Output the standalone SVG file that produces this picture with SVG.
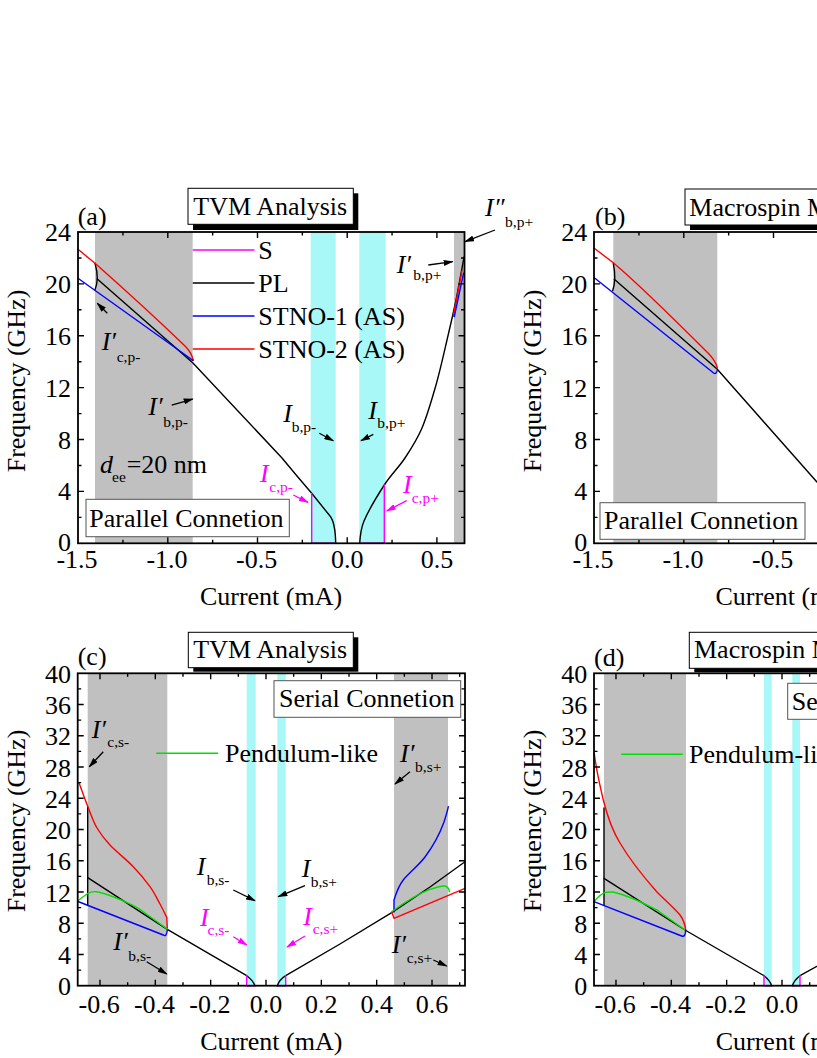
<svg xmlns="http://www.w3.org/2000/svg" width="817" height="1058" viewBox="0 0 817 1058">
<defs>
<style>
text{font-family:"Liberation Serif","Times New Roman",serif;font-size:26px;fill:#000}
.it{font-style:italic}
.sb{font-size:15.5px}
.mg{fill:#ff00ff}
.gray{fill:#c0c0c0}
.cyan{fill:#a8f8f8}
.frame{fill:none;stroke:#000;stroke-width:1.8}
.tick{fill:none;stroke:#000;stroke-width:1.4}
.c{fill:none;stroke-width:1.4;stroke-linejoin:round;stroke-linecap:round}
.k{stroke:#000}.r{stroke:#ff0000}.b{stroke:#0000ff}.g{stroke:#00e000}.m{stroke:#ff00ff}
.box{fill:#fff;stroke:#000;stroke-width:1}
.box2{fill:#fff;stroke:#555;stroke-width:1}
.arr{stroke:#000;stroke-width:1.3;marker-end:url(#ah)}
.arrm{stroke:#ff00ff;stroke-width:1.3;marker-end:url(#ahm)}
.yl{text-anchor:end}
.xl{text-anchor:middle}
</style>
<marker id="ah" viewBox="0 0 10 6" refX="9" refY="3" markerWidth="10" markerHeight="6" markerUnits="userSpaceOnUse" orient="auto"><path d="M0,0 L10,3 L0,6 z" fill="#000"/></marker>
<marker id="ahm" viewBox="0 0 10 6" refX="9" refY="3" markerWidth="10" markerHeight="6" markerUnits="userSpaceOnUse" orient="auto"><path d="M0,0 L10,3 L0,6 z" fill="#ff00ff"/></marker>
</defs>
<rect width="817" height="1058" fill="#fff"/>

<!-- ========== Panel (a) ========== -->
<g id="panel-a">
<rect class="gray" x="95" y="232" width="97.7" height="311.3"/>
<rect class="gray" x="454" y="232" width="10.5" height="311.3"/>
<rect class="cyan" x="310.7" y="232" width="25" height="311.3"/>
<rect class="cyan" x="359.3" y="232" width="26.4" height="311.3"/>
<g id="curves-a">
<path class="c k" d="M95,263.3 Q99.5,279 95,290"/>
<path class="c k" d="M97.3,279 L192.7,362.7 L282,458 Q296,475 311.7,493.3 L330,516 C334,521 335.5,532 335.7,543.3"/>
<path class="c k" d="M359.7,543.3 C360.3,533 361.5,527 364,521 C368.1,511.3 377.5,495.5 384.3,485 C391.1,474.5 398.7,467.5 405,458 C411.3,448.5 416.8,440.2 422,428 C427.2,415.8 431.8,399.7 436,385 C440.2,370.3 443.7,354.2 447,340 C450.3,325.8 453.2,313.8 456,300 C458.8,286.2 462.7,264.2 464,257"/>
<path class="c r" d="M78,249.3 L95,263.3 C115,281 160,322 185,346 C189,350 192,354 193,360"/>
<path class="c b" d="M78,278.3 L190,358.3 Q193,361 193.3,360"/>
<path class="c m" d="M311.7,493.3 V543.3 H335.7"/>
<path class="c m" d="M359.7,543.3 H384.3 V485"/>
<path class="c r" d="M453.3,316 L462,270.7"/>
<path class="c b" d="M454.3,316.7 L463.5,273.3"/>
</g>
<g id="legend-a">
<line class="c m" x1="193.3" y1="250" x2="254" y2="250"/><text x="258.3" y="259">S</text>
<line class="c k" x1="193.3" y1="283" x2="254" y2="283"/><text x="258.3" y="292">PL</text>
<line class="c b" x1="193.3" y1="316" x2="254" y2="316"/><text x="258.3" y="325">STNO-1 (AS)</text>
<line class="c r" x1="193.3" y1="349" x2="254" y2="349"/><text x="258.3" y="358">STNO-2 (AS)</text>
</g>
<rect class="frame" x="78" y="232" width="386.5" height="311.3"/>
<path class="tick" d="M167.8,543.3v-6M257.5,543.3v-6M347.2,543.3v-6M436.9,543.3v-6M122.95,543.3v-3.5M212.65,543.3v-3.5M302.35,543.3v-3.5M392.05,543.3v-3.5M167.8,232v6M257.5,232v6M347.2,232v6M436.9,232v6M122.95,232v3.5M212.65,232v3.5M302.35,232v3.5M392.05,232v3.5M78,491.42h6M78,439.53h6M78,387.65h6M78,335.77h6M78,283.88h6M78,517.36h3.5M78,465.47h3.5M78,413.59h3.5M78,361.71h3.5M78,309.82h3.5M78,257.94h3.5M464.5,491.42h-6M464.5,439.53h-6M464.5,387.65h-6M464.5,335.77h-6M464.5,283.88h-6M464.5,517.36h-3.5M464.5,465.47h-3.5M464.5,413.59h-3.5M464.5,361.71h-3.5M464.5,309.82h-3.5M464.5,257.94h-3.5"/>
<g id="ticklabels-a">
<text class="yl" x="71" y="241">24</text><text class="yl" x="71" y="292.9">20</text><text class="yl" x="71" y="344.8">16</text><text class="yl" x="71" y="396.6">12</text><text class="yl" x="71" y="448.5">8</text><text class="yl" x="71" y="500.4">4</text><text class="yl" x="71" y="550.5">0</text>
<text class="xl" x="77" y="568">-1.5</text><text class="xl" x="167" y="568">-1.0</text><text class="xl" x="256.7" y="568">-0.5</text><text class="xl" x="347.2" y="568">0.0</text><text class="xl" x="436.9" y="568">0.5</text>
</g>
<text class="xl" x="271" y="605">Current (mA)</text>
<text class="xl" transform="translate(25,381) rotate(-90)">Frequency (GHz)</text>
<text x="77.7" y="225">(a)</text>
<g id="box-a-title">
<rect x="193" y="193.3" width="165.3" height="36.7" fill="#000"/>
<rect class="box" x="188" y="188.3" width="165.3" height="36"/>
<text x="193.3" y="215">TVM Analysis</text>
</g>
<g id="box-a-conn">
<rect class="box2" x="86" y="499.3" width="203.3" height="37.4"/>
<text x="89.3" y="526.7">Parallel Connetion</text>
</g>
<g id="annot-a">
<text class="it" x="100" y="473.3">d</text><text class="sb" x="112" y="481.7">ee</text><text x="126.7" y="473.3">=20 nm</text>
<text class="it" x="101.7" y="350">I′</text><text class="sb" x="116.7" y="361.7">c,p-</text>
<text class="it" x="148.3" y="415">I′</text><text class="sb" x="163.3" y="426.7">b,p-</text>
<text class="it" x="283.3" y="421.7">I</text><text class="sb" x="291.7" y="432">b,p-</text>
<text class="it" x="368.3" y="419.3">I</text><text class="sb" x="377.3" y="428.3">b,p+</text>
<text class="it mg" x="260" y="481.7">I</text><text class="sb mg" x="269.3" y="491.7">c,p-</text>
<text class="it mg" x="403" y="493.3">I</text><text class="sb mg" x="411.7" y="503.3">c,p+</text>
<text class="it" x="396.7" y="272.7">I′</text><text class="sb" x="413.3" y="280">b,p+</text>
<text class="it" x="485" y="216">I″</text><text class="sb" x="505" y="226.7">b,p+</text>
</g>
</g>

<!-- ========== Panel (b) ========== -->
<g id="panel-b">
<rect class="gray" x="613.3" y="232" width="104" height="311.3"/>
<g id="curves-b">
<path class="c k" d="M613.3,263.3 Q616.5,279 612.7,290.7"/>
<path class="c k" d="M614.3,279.3 L717.3,369.3 L816.7,481.7 L830,496"/>
<path class="c r" d="M594.3,248.3 L613.3,262.7 C635,281 680,325 708,353 C713,358 716,362 717.3,368"/>
<path class="c b" d="M594.3,277.7 L713.3,372.7 Q716.5,375 717.3,370"/>
</g>
<rect class="frame" x="594" y="232" width="386.5" height="311.3"/>
<path class="tick" d="M683.8,543.3v-6M773.5,543.3v-6M638.95,543.3v-3.5M728.65,543.3v-3.5M683.8,232v6M773.5,232v6M638.95,232v3.5M728.65,232v3.5M594,491.42h6M594,439.53h6M594,387.65h6M594,335.77h6M594,283.88h6M594,517.36h3.5M594,465.47h3.5M594,413.59h3.5M594,361.71h3.5M594,309.82h3.5M594,257.94h3.5"/>
<g id="ticklabels-b">
<text class="yl" x="587.3" y="241">24</text><text class="yl" x="587.3" y="292.9">20</text><text class="yl" x="587.3" y="344.8">16</text><text class="yl" x="587.3" y="396.6">12</text><text class="yl" x="587.3" y="448.5">8</text><text class="yl" x="587.3" y="500.4">4</text><text class="yl" x="587.3" y="550.5">0</text>
<text class="xl" x="593" y="568">-1.5</text><text class="xl" x="683" y="568">-1.0</text><text class="xl" x="772.7" y="568">-0.5</text>
</g>
<text x="715.5" y="605">Current (m</text>
<text class="xl" transform="translate(541,381) rotate(-90)">Frequency (GHz)</text>
<text x="595" y="225">(b)</text>
<g id="box-b-title">
<rect x="690" y="194" width="140" height="36" fill="#000"/>
<rect class="box" x="685" y="189" width="140" height="36"/>
<text x="689.3" y="215.7">Macrospin M</text>
</g>
<g id="box-b-conn">
<rect class="box2" x="600" y="502.7" width="205" height="36.6"/>
<text x="604" y="529.3">Parallel Connetion</text>
</g>
</g>

<!-- ========== Panel (c) ========== -->
<g id="panel-c">
<rect class="gray" x="87.7" y="673.3" width="79.6" height="312.4"/>
<rect class="gray" x="394" y="673.3" width="54" height="312.4"/>
<rect class="cyan" x="246.7" y="673.3" width="9" height="312.4"/>
<rect class="cyan" x="277.3" y="673.3" width="8.4" height="312.4"/>
<g id="curves-c">
<path class="c k" d="M87.7,807 V905.3"/>
<path class="c k" d="M87.7,877.7 L167.3,929.3 L246.7,975.7 C250,978 253,981 255,985.7"/>
<path class="c k" d="M277.3,985.7 C279,981 282,978 285.7,975.7 L340,944 L391.7,912.7 L430,887 L465,861.7"/>
<path class="c r" d="M79,782.7 C80.5,786.75 85,799.45 88,807 C91,814.55 93.3,821.7 97,828 C100.7,834.3 104,838.55 110,845 C116.05,851.45 126.6,859.75 133.3,866.7 C140,873.65 145.55,880.5 150,886.7 C154.45,892.9 157.2,898.9 160,904 C162.8,909.1 165.6,915.1 166.7,917.3 L167.3,928"/>
<path class="c g" d="M77.7,900.7 L87.7,893.5 C90,892 93,891.3 96.7,891.7 C103,892.5 110,895.5 120,899.5 C128,903 135,906 141,910 L167.3,929.3"/>
<path class="c b" d="M78,901.5 L163.3,935 Q166.5,937.5 167.3,930"/>
<path class="c b" d="M394,912 V900 C397,890 400,884 404,879 C411,871 419,865 425,857 C434,845 440,833 444,822 C446,816 447.5,811 448.3,806.7"/>
<path class="c r" d="M392,912.5 L394,918.3 L465,888.3"/>
<path class="c g" d="M391.7,911.7 C405,902 420,893 430,889.3 C437,887 442,885.5 445,886 C448,887 449.3,889 449.3,891.7"/>
<path class="c m" d="M246.7,975.7 V985.7 H255"/>
<path class="c m" d="M277.3,985.7 H285.7 V975.7"/>
</g>
<g id="legend-c">
<line class="c g" x1="156.7" y1="753.3" x2="217.7" y2="753.3"/><text x="225" y="762">Pendulum-like</text>
</g>
<rect class="frame" x="77.7" y="673.3" width="387.3" height="312.4"/>
<path class="tick" d="M99.98,985.7v-6M155.32,985.7v-6M210.66,985.7v-6M266,985.7v-6M321.34,985.7v-6M376.68,985.7v-6M432.02,985.7v-6M127.65,985.7v-3.5M182.99,985.7v-3.5M238.33,985.7v-3.5M293.67,985.7v-3.5M349.01,985.7v-3.5M404.35,985.7v-3.5M459.69,985.7v-3.5M99.98,673.3v6M155.32,673.3v6M210.66,673.3v6M266,673.3v6M321.34,673.3v6M376.68,673.3v6M432.02,673.3v6M127.65,673.3v3.5M182.99,673.3v3.5M238.33,673.3v3.5M293.67,673.3v3.5M349.01,673.3v3.5M404.35,673.3v3.5M459.69,673.3v3.5M77.7,954.46h6M77.7,923.22h6M77.7,891.98h6M77.7,860.74h6M77.7,829.5h6M77.7,798.26h6M77.7,767.02h6M77.7,735.78h6M77.7,704.54h6M77.7,970.08h3.5M77.7,938.84h3.5M77.7,907.6h3.5M77.7,876.36h3.5M77.7,845.12h3.5M77.7,813.88h3.5M77.7,782.64h3.5M77.7,751.4h3.5M77.7,720.16h3.5M77.7,688.92h3.5M465,954.46h-6M465,923.22h-6M465,891.98h-6M465,860.74h-6M465,829.5h-6M465,798.26h-6M465,767.02h-6M465,735.78h-6M465,704.54h-6M465,970.08h-3.5M465,938.84h-3.5M465,907.6h-3.5M465,876.36h-3.5M465,845.12h-3.5M465,813.88h-3.5M465,782.64h-3.5M465,751.4h-3.5M465,720.16h-3.5M465,688.92h-3.5"/>
<g id="ticklabels-c">
<text class="yl" x="71" y="682.8">40</text><text class="yl" x="71" y="714">36</text><text class="yl" x="71" y="745.3">32</text><text class="yl" x="71" y="776.5">28</text><text class="yl" x="71" y="807.8">24</text><text class="yl" x="71" y="839">20</text><text class="yl" x="71" y="870.2">16</text><text class="yl" x="71" y="901.5">12</text><text class="yl" x="71" y="932.7">8</text><text class="yl" x="71" y="964">4</text><text class="yl" x="71" y="994.5">0</text>
<text class="xl" x="99.2" y="1013.3">-0.6</text><text class="xl" x="154.5" y="1013.3">-0.4</text><text class="xl" x="209.9" y="1013.3">-0.2</text><text class="xl" x="266" y="1013.3">0.0</text><text class="xl" x="321.3" y="1013.3">0.2</text><text class="xl" x="376.7" y="1013.3">0.4</text><text class="xl" x="432" y="1013.3">0.6</text>
</g>
<text class="xl" x="271.3" y="1050">Current (mA)</text>
<text class="xl" transform="translate(25,821) rotate(-90)">Frequency (GHz)</text>
<text x="77.7" y="665">(c)</text>
<g id="box-c-title">
<rect x="193.3" y="637.3" width="165" height="34.4" fill="#000"/>
<rect class="box" x="188.3" y="632.3" width="165" height="35.4"/>
<text x="193.3" y="658.3">TVM Analysis</text>
</g>
<g id="box-c-conn">
<rect class="box2" x="274" y="680.7" width="186.7" height="36.6"/>
<text x="279" y="707.3">Serial Connetion</text>
</g>
<g id="annot-c">
<text class="it" x="91.7" y="738.3">I′</text><text class="sb" x="107.3" y="746.7">c,s-</text>
<text class="it" x="400" y="761.7">I′</text><text class="sb" x="415" y="771.7">b,s+</text>
<text class="it" x="391.7" y="953.3">I′</text><text class="sb" x="406.7" y="962.7">c,s+</text>
<text class="it" x="301.7" y="876.7">I</text><text class="sb" x="310.7" y="886.7">b,s+</text>
<text class="it" x="196.7" y="875">I</text><text class="sb" x="206.7" y="885">b,s-</text>
<text class="it mg" x="200" y="926">I</text><text class="sb mg" x="207.5" y="934.5">c,s-</text>
<text class="it mg" x="303.3" y="925">I</text><text class="sb mg" x="312.7" y="934">c,s+</text>
<text class="it" x="113.3" y="950">I′</text><text class="sb" x="128.3" y="960.7">b,s-</text>
</g>
</g>

<!-- ========== Panel (d) ========== -->
<g id="panel-d">
<rect class="gray" x="604" y="673.3" width="82" height="312.4"/>
<rect class="cyan" x="764" y="673.3" width="7.7" height="312.4"/>
<rect class="cyan" x="792.3" y="673.3" width="7.7" height="312.4"/>
<g id="curves-d">
<path class="c k" d="M604,808 V905"/>
<path class="c k" d="M604,878.3 L685,930 L764,975.7 C767,978 770,981 771.7,985.7"/>
<path class="c k" d="M792.3,985.7 C794,981 797,978 800,975.7 L830,959"/>
<path class="c r" d="M594.3,753.3 C596,768 599,782 603.3,800 C607,815 612,830 620,843 C630,860 642,875 656.7,891.7 C667,902 675,909 680,915 C683,919 685,924 685.7,930"/>
<path class="c g" d="M594,901.7 C598,897 601,894 605,892.7 C608,891.8 611,891.8 614,892.3 C630,896 645,904 657,910 L685,930"/>
<path class="c b" d="M594,901.7 L681.7,936 Q685.5,937.5 685.7,930"/>
<path class="c m" d="M764,975.7 V985.7 H771.7"/>
<path class="c m" d="M792.3,985.7 H800 V975.7"/>
</g>
<g id="legend-d">
<line class="c g" x1="621.7" y1="754.3" x2="682.3" y2="754.3"/><text x="689" y="762.5">Pendulum-li</text>
</g>
<rect class="frame" x="594" y="673.3" width="387.3" height="312.4"/>
<path class="tick" d="M615.98,985.7v-6M671.32,985.7v-6M726.66,985.7v-6M782,985.7v-6M643.65,985.7v-3.5M698.99,985.7v-3.5M754.33,985.7v-3.5M809.67,985.7v-3.5M615.98,673.3v6M671.32,673.3v6M726.66,673.3v6M782,673.3v6M643.65,673.3v3.5M698.99,673.3v3.5M754.33,673.3v3.5M809.67,673.3v3.5M594,954.46h6M594,923.22h6M594,891.98h6M594,860.74h6M594,829.5h6M594,798.26h6M594,767.02h6M594,735.78h6M594,704.54h6M594,970.08h3.5M594,938.84h3.5M594,907.6h3.5M594,876.36h3.5M594,845.12h3.5M594,813.88h3.5M594,782.64h3.5M594,751.4h3.5M594,720.16h3.5M594,688.92h3.5"/>
<g id="ticklabels-d">
<text class="yl" x="587.3" y="682.8">40</text><text class="yl" x="587.3" y="714">36</text><text class="yl" x="587.3" y="745.3">32</text><text class="yl" x="587.3" y="776.5">28</text><text class="yl" x="587.3" y="807.8">24</text><text class="yl" x="587.3" y="839">20</text><text class="yl" x="587.3" y="870.2">16</text><text class="yl" x="587.3" y="901.5">12</text><text class="yl" x="587.3" y="932.7">8</text><text class="yl" x="587.3" y="964">4</text><text class="yl" x="587.3" y="994.5">0</text>
<text class="xl" x="615.2" y="1013.3">-0.6</text><text class="xl" x="670.5" y="1013.3">-0.4</text><text class="xl" x="725.9" y="1013.3">-0.2</text><text class="xl" x="782" y="1013.3">0.0</text>
</g>
<text x="715.7" y="1050">Current (m</text>
<text class="xl" transform="translate(541,821) rotate(-90)">Frequency (GHz)</text>
<text x="594" y="665.7">(d)</text>
<g id="box-d-title">
<rect x="694.3" y="637.3" width="140" height="35" fill="#000"/>
<rect class="box" x="689.3" y="632.3" width="140" height="36"/>
<text x="694" y="658.3">Macrospin M</text>
</g>
<g id="box-d-conn">
<rect class="box2" x="787.7" y="683.3" width="60" height="36"/>
<text x="791.7" y="710">Se</text>
</g>
</g>

<!-- ========== Connectors (annotation arrows) ========== -->
<g id="connectors">
<line class="arr" x1="107.3" y1="313.3" x2="97.3" y2="303.3"/>
<line class="arr" x1="171.7" y1="405" x2="192.7" y2="399"/>
<line class="arr" x1="319.3" y1="433.3" x2="333.3" y2="440.7"/>
<line class="arr" x1="373.3" y1="434.3" x2="361" y2="440.7"/>
<line class="arrm" x1="293.3" y1="495" x2="308" y2="502.3"/>
<line class="arrm" x1="406.7" y1="500.7" x2="386.7" y2="511"/>
<line class="arr" x1="428.3" y1="265" x2="452.7" y2="261.7"/>
<line class="arr" x1="495" y1="230" x2="465" y2="241.7"/>
<line class="arr" x1="103.3" y1="751.7" x2="89.3" y2="766.7"/>
<line class="arr" x1="410" y1="771.7" x2="395" y2="784"/>
<line class="arr" x1="433.3" y1="960" x2="446.7" y2="966"/>
<line class="arr" x1="305" y1="885.7" x2="278.3" y2="896.7"/>
<line class="arr" x1="233.3" y1="890" x2="255" y2="900.7"/>
<line class="arrm" x1="233.3" y1="936.7" x2="246.7" y2="945"/>
<line class="arrm" x1="305" y1="936" x2="287" y2="947"/>
<line class="arr" x1="146.7" y1="961.7" x2="166.7" y2="974"/>
</g>
</svg>
